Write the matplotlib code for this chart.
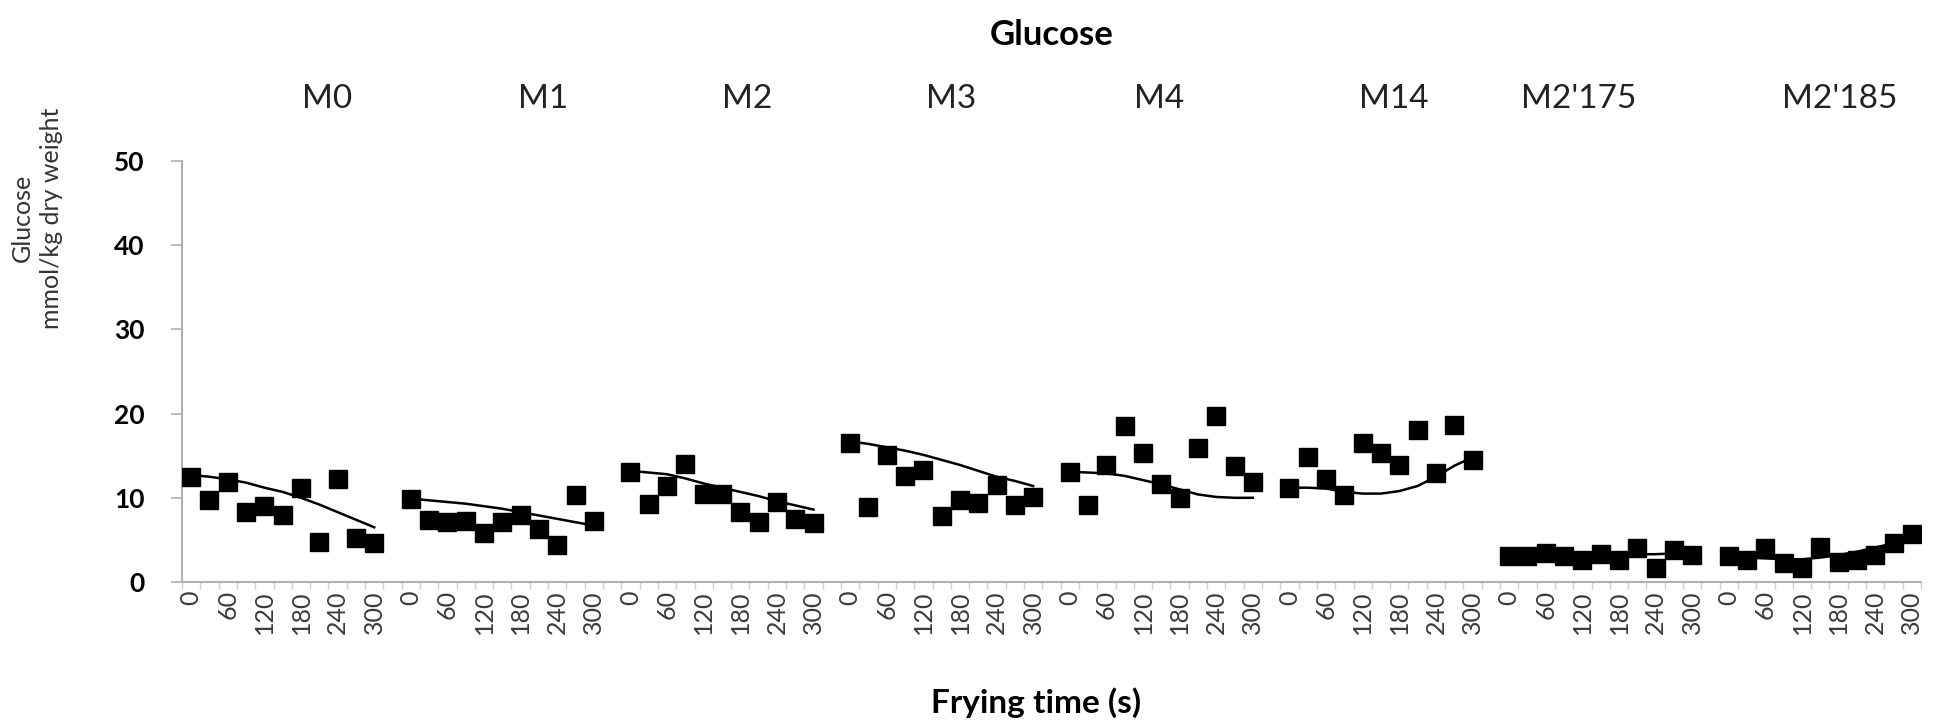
import numpy as np
import matplotlib.pyplot as plt

# ---- data ----------------------------------------------------------
groups = ["M0", "M1", "M2", "M3", "M4", "M14", "M2'175", "M2'185"]
frying_time = [0, 30, 60, 90, 120, 150, 180, 210, 240, 270, 300]
tick_times = [0, 60, 120, 180, 240, 300]

# measured glucose, mmol/kg dry weight
m0_obs = [12.5, 9.7, 11.9, 8.3, 9.0, 7.9, 11.2, 4.8, 12.2, 5.2, 4.6]
m1_obs = [9.9, 7.4, 7.1, 7.3, 5.8, 7.1, 7.9, 6.3, 4.4, 10.3, 7.3]
m2_obs = [13.1, 9.3, 11.4, 14.0, 10.5, 10.4, 8.3, 7.1, 9.5, 7.5, 7.0]
m3_obs = [16.5, 8.9, 15.1, 12.6, 13.3, 7.8, 9.7, 9.4, 11.5, 9.1, 10.1]
m4_obs = [13.1, 9.2, 13.9, 18.5, 15.3, 11.6, 10.0, 15.9, 19.7, 13.8, 11.9]
m14_obs = [11.2, 14.8, 12.2, 10.3, 16.5, 15.3, 13.9, 18.0, 12.9, 18.6, 14.5]
m2_175_obs = [3.1, 3.1, 3.5, 3.1, 2.6, 3.3, 2.6, 4.0, 1.7, 3.8, 3.2]
m2_185_obs = [3.1, 2.6, 4.0, 2.2, 1.7, 4.2, 2.4, 2.6, 3.2, 4.6, 5.7]

# fitted curves
m0_fit = [12.7, 12.5, 12.2, 11.8, 11.2, 10.7, 10.0, 9.2, 8.3, 7.4, 6.5]
m1_fit = [9.9, 9.7, 9.5, 9.3, 9.0, 8.7, 8.3, 7.9, 7.5, 7.1, 6.7]
m2_fit = [13.2, 13.0, 12.8, 12.3, 11.7, 11.2, 10.7, 10.2, 9.6, 9.1, 8.6]
m3_fit = [16.7, 16.4, 16.0, 15.6, 15.1, 14.5, 13.9, 13.2, 12.5, 12.0, 11.4]
m4_fit = [13.1, 13.0, 12.9, 12.6, 12.1, 11.6, 11.0, 10.4, 10.1, 10.0, 10.0]
m14_fit = [11.2, 11.2, 11.1, 10.7, 10.5, 10.5, 10.8, 11.4, 12.5, 13.8, 14.8]
m2_175_fit = [3.1, 3.1, 3.2, 3.2, 3.2, 3.2, 3.2, 3.3, 3.3, 3.4, 3.4]
m2_185_fit = [3.0, 2.9, 2.8, 2.7, 2.7, 2.9, 3.2, 3.6, 4.1, 4.6, 5.3]

observed = [m0_obs, m1_obs, m2_obs, m3_obs, m4_obs, m14_obs, m2_175_obs, m2_185_obs]
fitted = [m0_fit, m1_fit, m2_fit, m3_fit, m4_fit, m14_fit, m2_175_fit, m2_185_fit]

plt.rcParams['font.family'] = ['Lato', 'DejaVu Sans']

# ---- figure --------------------------------------------------------
W, H = 1934, 728
fig = plt.figure(figsize=(W / 100, H / 100), dpi=100)
ax = fig.add_axes([182 / W, 1 - 582 / H, (1921 - 182) / W, (582 - 161) / H])

n = len(frying_time)
step = n + 1          # one empty category between groups
axis_grey = '#b0b0b0'

tick_pos, tick_lab = [], []
for g in range(len(groups)):
    x = g * step + np.arange(n)
    ax.plot(x, fitted[g], color='black', lw=1.8, zorder=2)
    ax.plot(x, observed[g], ls='none', marker='s', ms=12.5,
            color='black', zorder=3)
    for t in tick_times:
        tick_pos.append(g * step + frying_time.index(t))
        tick_lab.append(str(t))

ncat = len(groups) * step - 1
ax.set_xlim(-0.5, ncat - 0.5)
ax.set_ylim(0, 50)

ax.set_xticks(tick_pos)
ax.set_xticklabels(tick_lab, rotation=90, va='top', ha='center',
                   fontsize=18, color='#3a3a3a')
ax.tick_params(axis='x', which='major', length=0, pad=6)
ax.set_xticks(np.arange(ncat + 1) - 0.5, minor=True)
ax.tick_params(axis='x', which='minor', length=5, width=1, color='#d0d0d0',
               direction='out')

ax.set_yticks(range(0, 51, 10))
ax.tick_params(axis='y', length=8, width=1.2, color=axis_grey, pad=19,
               labelsize=19)
for lab in ax.get_yticklabels():
    lab.set_fontweight('bold')

for side in ['top', 'right']:
    ax.spines[side].set_visible(False)
for side in ['left', 'bottom']:
    ax.spines[side].set_color(axis_grey)
    ax.spines[side].set_linewidth(1.5)

# group names above the plot
label_x = [327, 543, 747, 951, 1159, 1394, 1579, 1840]
for name, px in zip(groups, label_x):
    fig.text(px / W, 1 - 99 / H, name, ha='center', va='center',
             fontsize=24, color='#222222')

fig.text(1052 / W, 1 - 35 / H, 'Glucose', ha='center', va='center',
         fontsize=25, fontweight='bold')
fig.text(37 / W, 1 - 218 / H, 'Glucose\nmmol/kg dry weight', ha='center',
         va='center', rotation=90, fontsize=18, color='#333333',
         linespacing=1.3)
fig.text(1036 / W, 1 - 703 / H, 'Frying time (s)', ha='center', va='center',
         fontsize=24, fontweight='bold')

fig.savefig('out.png', dpi=100)
